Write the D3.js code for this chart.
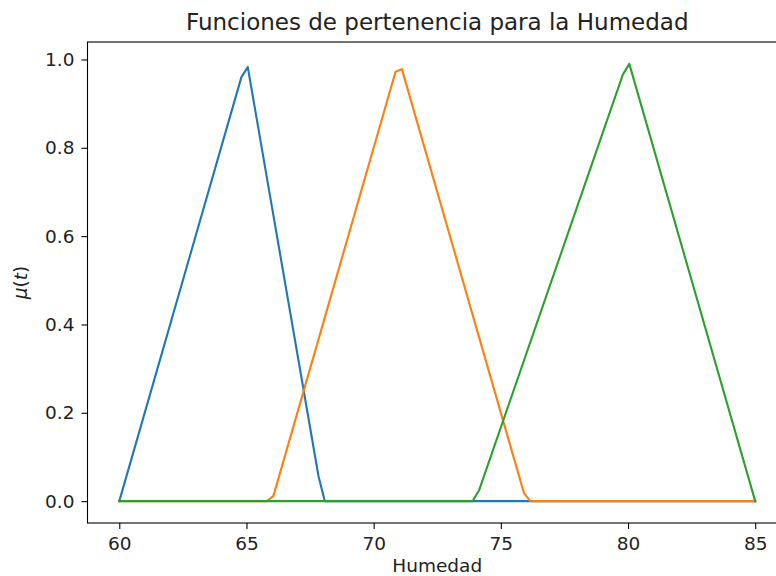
<!DOCTYPE html>
<html>
<head>
<meta charset="utf-8">
<script src="https://cdn.jsdelivr.net/npm/d3@7"></script>
<style>
  html, body { margin: 0; padding: 0; background: #fff; }
  svg { display: block; font-family: "DejaVu Sans", sans-serif; }
</style>
</head>
<body>
<svg id="chart" width="776" height="576"></svg>
<script>
// Membership functions for humidity, sampled vertices (x = humidity, y = μ)
const humBajaX  = [60, 64.80, 65.05, 67.83, 68.08, 85];
const humBajaY  = [0, 0.960, 0.983, 0.057, 0, 0];
const humMediaX = [60, 65.81, 66.06, 70.86, 71.11, 75.91, 76.16, 85];
const humMediaY = [0, 0, 0.012, 0.972, 0.978, 0.018, 0, 0];
const humAltaX  = [60, 73.89, 74.14, 79.80, 80.05, 85];
const humAltaY  = [0, 0, 0.024, 0.966, 0.990, 0];

const xTicks = [60, 65, 70, 75, 80, 85];
const yTicks = [0.0, 0.2, 0.4, 0.6, 0.8, 1.0];
const colors = ["#1f77b4", "#ff7f0e", "#2ca02c"];

const series = [
  { x: humBajaX,  y: humBajaY },
  { x: humMediaX, y: humMediaY },
  { x: humAltaX,  y: humAltaY }
];

const svg = d3.select("#chart");
const plotL = 87.5, plotR = 787, plotT = 42, plotB = 523;

const x = d3.scaleLinear().domain([58.75, 86.25]).range([plotL, plotR]);
const y = d3.scaleLinear().domain([-0.0495, 1.0395]).range([plotB, plotT]);

// lines
const line = d3.line().x(d => x(d[0])).y(d => y(d[1]));
series.forEach((s, i) => {
  const pts = s.x.map((v, j) => [v, s.y[j]]);
  svg.append("path")
    .attr("d", line(pts))
    .attr("fill", "none")
    .attr("stroke", colors[i])
    .attr("stroke-width", 2.1)
    .attr("stroke-linejoin", "round")
    .attr("stroke-linecap", "square");
});

// axes
const xAxis = d3.axisBottom(x).tickValues(xTicks).tickFormat(d3.format("d"))
  .tickSize(6).tickPadding(8).tickSizeOuter(0);
const yAxis = d3.axisLeft(y).tickValues(yTicks).tickFormat(d3.format(".1f"))
  .tickSize(6).tickPadding(7).tickSizeOuter(0);

const gx = svg.append("g").attr("transform", `translate(0,${plotB})`).call(xAxis);
const gy = svg.append("g").attr("transform", `translate(${plotL},0)`).call(yAxis);
[gx, gy].forEach(g => {
  g.select(".domain").remove();
  g.selectAll(".tick line").attr("stroke", "#000").attr("stroke-width", 1.1);
  g.selectAll(".tick text").attr("fill", "#222").style("font-size", "18.5px")
    .style("font-family", "'DejaVu Sans', sans-serif");
});

// spines
svg.append("rect")
  .attr("x", plotL).attr("y", plotT)
  .attr("width", plotR - plotL).attr("height", plotB - plotT)
  .attr("fill", "none").attr("stroke", "#000").attr("stroke-width", 1.1);

// title
svg.append("text")
  .attr("x", (plotL + plotR) / 2).attr("y", 30)
  .attr("text-anchor", "middle")
  .style("font-size", "23px").attr("fill", "#222")
  .text("Funciones de pertenencia para la Humedad");

// x label
svg.append("text")
  .attr("x", (plotL + plotR) / 2).attr("y", 572)
  .attr("text-anchor", "middle")
  .style("font-size", "18.5px").attr("fill", "#222")
  .text("Humedad");

// y label
const yl = svg.append("text")
  .attr("transform", `translate(27,${(plotT + plotB) / 2}) rotate(-90)`)
  .attr("text-anchor", "middle")
  .style("font-size", "18.5px").attr("fill", "#222");
yl.append("tspan").attr("font-style", "italic").text("μ");
yl.append("tspan").text("(");
yl.append("tspan").attr("font-style", "italic").text("t");
yl.append("tspan").text(")");
</script>
</body>
</html>
